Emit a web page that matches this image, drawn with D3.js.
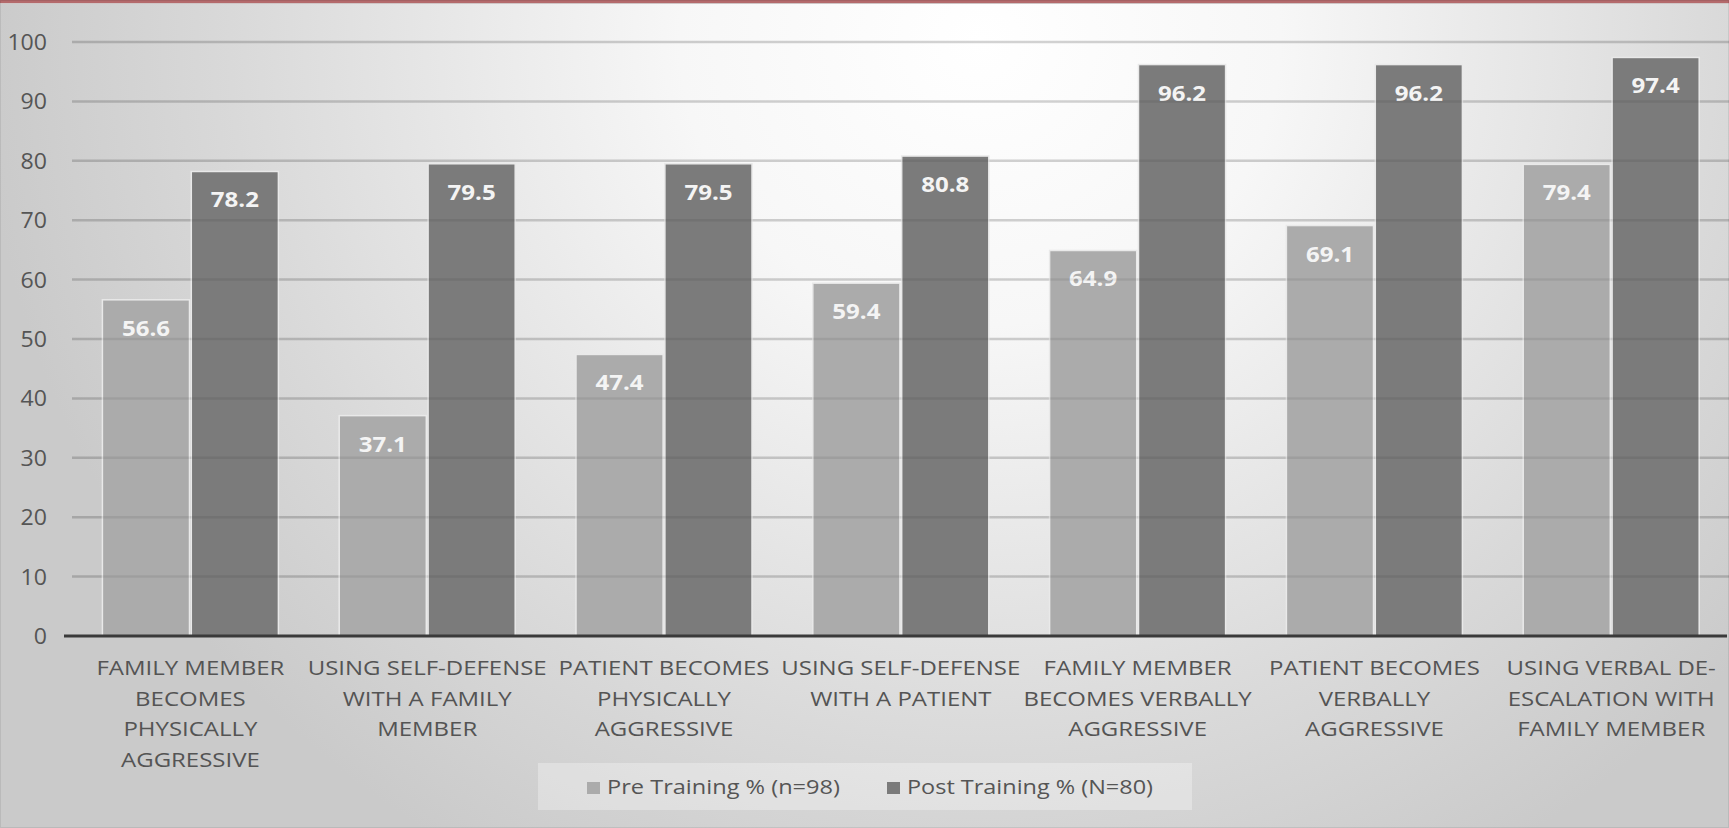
<!DOCTYPE html>
<html>
<head>
<meta charset="utf-8">
<script src="https://cdn.jsdelivr.net/npm/d3@7"></script>
<style>
  html, body { margin: 0; padding: 0; background: #d0d0d0; }
  svg { display: block; }
  text { font-family: "Open Sans", Lato, sans-serif; }
</style>
</head>
<body>
<svg id="chart" width="1729" height="828"></svg>
<script>
// Scenario categories (line breaks as they appear under the axis)
const categories = [
  "FAMILY MEMBER|BECOMES|PHYSICALLY|AGGRESSIVE",
  "USING SELF-DEFENSE|WITH A FAMILY|MEMBER",
  "PATIENT BECOMES|PHYSICALLY|AGGRESSIVE",
  "USING SELF-DEFENSE|WITH A PATIENT",
  "FAMILY MEMBER|BECOMES VERBALLY|AGGRESSIVE",
  "PATIENT BECOMES|VERBALLY|AGGRESSIVE",
  "USING VERBAL DE-|ESCALATION WITH|FAMILY MEMBER"
];
const seriesNames = ["Pre Training % (n=98)", "Post Training % (N=80)"];
const preTraining = [56.6, 37.1, 47.4, 59.4, 64.9, 69.1, 79.4];
const postTraining = [78.2, 79.5, 79.5, 80.8, 96.2, 96.2, 97.4];
const yTicks = [0, 10, 20, 30, 40, 50, 60, 70, 80, 90, 100];

const W = 1729, H = 828;
const svg = d3.select("#chart");
const colors = ["#ababab", "#7b7b7b"];

// Background: soft radial glow from the upper middle
const defs = svg.append("defs");
const rg = defs.append("radialGradient")
  .attr("id", "bg").attr("gradientUnits", "userSpaceOnUse")
  .attr("cx", 980).attr("cy", 40).attr("r", 1000)
  .attr("gradientTransform", "translate(980,40) scale(1,0.95) translate(-980,-40)");
rg.append("stop").attr("offset", 0).attr("stop-color", "#ffffff");
rg.append("stop").attr("offset", 0.3).attr("stop-color", "#f7f7f7");
rg.append("stop").attr("offset", 0.75).attr("stop-color", "#d9d9d9");
rg.append("stop").attr("offset", 1).attr("stop-color", "#cacaca");
svg.append("rect").attr("width", W).attr("height", H).attr("fill", "url(#bg)");

// Thin accent line along the top
svg.append("rect").attr("x", 0).attr("y", 0).attr("width", W).attr("height", 3).attr("fill", "#b46a6c");
svg.append("rect").attr("x", 0).attr("y", 3).attr("width", W).attr("height", 1).attr("fill", "#cfc6c6");

// Scales
const plotLeft = 72, plotRight = 1729.6;
const y = d3.scaleLinear().domain([0, 100]).range([636, 42]);
const x0 = d3.scaleBand().domain(d3.range(categories.length)).range([plotLeft, plotRight]).padding(0);
const x1 = d3.scaleBand().domain([0, 1]).range([30.4, 206.4]).paddingInner(0.02);

const groups = categories.map((c, i) => ({ i, values: [preTraining[i], postTraining[i]] }));

// Gridlines (under bars)
svg.append("g").selectAll("line").data(yTicks.filter(t => t > 0)).join("line")
  .attr("x1", plotLeft).attr("x2", W)
  .attr("y1", d => y(d)).attr("y2", d => y(d))
  .attr("stroke", "rgba(0,0,0,0.11)").attr("stroke-width", 2.5);

// Bars
const grp = svg.append("g").selectAll("g").data(groups).join("g")
  .attr("transform", d => `translate(${x0(d.i)},0)`);
grp.selectAll("rect").data(d => d.values.map((v, s) => ({ v, s }))).join("rect")
  .attr("x", d => x1(d.s))
  .attr("y", d => y(d.v))
  .attr("width", x1.bandwidth())
  .attr("height", d => y(0) - y(d.v))
  .attr("fill", d => colors[d.s])
  .attr("stroke", "#e9e9e9").attr("stroke-width", 1.5);

// Gridlines faintly visible across the bars
svg.append("g").selectAll("line").data(yTicks.filter(t => t > 0)).join("line")
  .attr("x1", plotLeft).attr("x2", W)
  .attr("y1", d => y(d)).attr("y2", d => y(d))
  .attr("stroke", "rgba(0,0,0,0.07)").attr("stroke-width", 2.5);

// Value labels (slightly wide lettering)
grp.selectAll("text.val").data(d => d.values.map((v, s) => ({ v, s }))).join("text")
  .attr("class", "val")
  .attr("transform", d => `translate(${x1(d.s) + x1.bandwidth() / 2},${y(d.v) + 36}) scale(1.12,1)`)
  .attr("text-anchor", "middle")
  .attr("font-size", 21.5).attr("font-weight", 700)
  .attr("fill", "#f4f4f4")
  .text(d => d.v.toFixed(1));

// Baseline
svg.append("line").attr("x1", plotLeft - 8).attr("x2", 1727)
  .attr("y1", y(0)).attr("y2", y(0))
  .attr("stroke", "#3a3a3a").attr("stroke-width", 3);

// Y axis labels
const yAxis = d3.axisLeft(y).tickValues(yTicks).tickSize(0).tickPadding(0);
const yG = svg.append("g").attr("transform", "translate(47,0)").call(yAxis);
yG.select(".domain").remove();
yG.selectAll(".tick text").attr("font-size", 21).attr("fill", "#555")
  .attr("font-family", "'Open Sans', sans-serif").attr("dy", "0.36em")
  .attr("transform", "scale(1.1,1)");

// Category labels
const xAxis = d3.axisBottom(x0).tickSize(0).tickFormat("");
const xG = svg.append("g").attr("transform", `translate(0,${y(0)})`).call(xAxis);
xG.select(".domain").remove();
xG.selectAll(".tick").each(function (d) {
  const t = d3.select(this).append("text")
    .attr("text-anchor", "middle").attr("font-size", 20.5).attr("fill", "#545454")
    .attr("transform", "scale(1.17,1)");
  categories[d].split("|").forEach((line, k) => {
    t.append("tspan").attr("x", 0).attr("y", 39 + k * 30.7).text(line);
  });
});

// Legend
const lg = svg.append("g");
lg.append("rect").attr("x", 538).attr("y", 763).attr("width", 654).attr("height", 47)
  .attr("fill", "rgba(255,255,255,0.3)");
const legendX = [587, 887];
const legendW = [233, 246];
const li = lg.selectAll("g").data(seriesNames).join("g")
  .attr("transform", (d, i) => `translate(${legendX[i]},0)`);
li.append("rect").attr("x", 0).attr("y", 782).attr("width", 13).attr("height", 12)
  .attr("fill", (d, i) => colors[i]);
li.append("text").attr("x", 20).attr("y", 794)
  .attr("font-size", 20.5).attr("fill", "#555")
  .attr("textLength", (d, i) => legendW[i]).attr("lengthAdjust", "spacingAndGlyphs")
  .text(d => d);

// Faint frame
svg.append("rect").attr("x", 0.5).attr("y", 0.5).attr("width", W - 1).attr("height", H - 1)
  .attr("fill", "none").attr("stroke", "rgba(0,0,0,0.08)");
</script>
</body>
</html>
